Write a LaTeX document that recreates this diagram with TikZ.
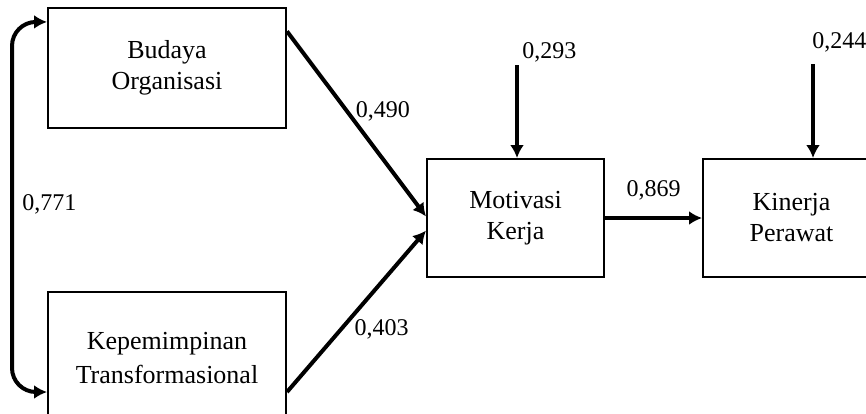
\documentclass[tikz,border=0pt]{standalone}
\usepackage{fontspec}
\setmainfont{Liberation Serif}
\usetikzlibrary{arrows.meta}
\usetikzlibrary{positioning}

\begin{document}
\begin{tikzpicture}[
		x=0.5pt, y=-0.5pt,
		node distance=48.5pt,
		var/.style={draw, line width=1pt, minimum width=119pt, minimum height=60pt, align=center, font=\fontsize{13}{15.5}\selectfont},
		smallvar/.style={var, minimum width=88.5pt, minimum height=59pt},
		path/.style={line width=2pt, -{Latex[length=6.5pt,width=7pt]}},
		twoway/.style={line width=2pt, {Latex[length=6.5pt,width=7pt]}-{Latex[length=6.5pt,width=7pt]}},
		coef/.style={inner sep=0pt, font=\fontsize{12}{14}\selectfont},
	]
		\clip (0,0) rectangle (866,413);

		\begin{scope}
			\node (budaya) [var] at (167,68) {Budaya\\Organisasi};
			\node (kepem) [var, minimum height=66pt, font=\fontsize{13}{17}\selectfont, below=81pt of budaya] {Kepemimpinan\\Transformasional};
			\node (motiv) [smallvar] at (515.5,218) {Motivasi\\Kerja};
			\node (kinerja) [smallvar, right=of motiv] {Kinerja\\Perawat};
		\end{scope}

		\begin{scope}
			\coordinate (loop) at (12,204);
			\node (c771) [coef, right=5pt of loop] {0,771};
			\draw[twoway, rounded corners=12pt] (budaya.159) -| (loop) |- ([yshift=-17pt]kepem.west);
		\end{scope}

		\begin{scope}
			\draw[path] (budaya.17) -- (motiv.179) node[coef, pos=0.43, right=3.5pt] (c490) {0,490};
			\draw[path] ([yshift=-17pt]kepem.east) -- (motiv.188) node[coef, pos=0.39, right=5.75pt] (c403) {0,403};
			\draw[path] (motiv.east) -- (kinerja.west) node[coef, midway, above=8pt] (c869) {0,869};
		\end{scope}

		\begin{scope}
			\coordinate (e1) at (517,65);
			\coordinate (e2) at (813,64);
			\node (c293) [coef, anchor=south west] at (522,63) {0,293};
			\node (c244) [coef, anchor=south west] at (812,53) {0,244};
			\draw[path] (e1) -- (e1|-motiv.north);
			\draw[path] (e2) -- (e2|-kinerja.north);
		\end{scope}
	\end{tikzpicture}
\end{document}
